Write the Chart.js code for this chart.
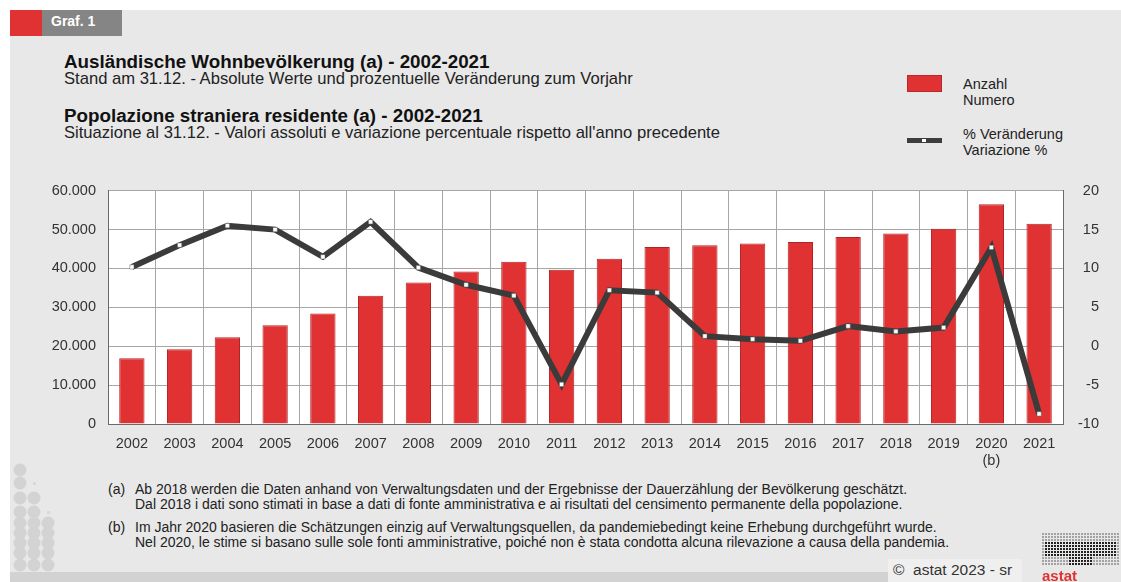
<!DOCTYPE html>
<html>
<head>
<meta charset="utf-8">
<script src="https://cdn.jsdelivr.net/npm/chart.js@4.4.0/dist/chart.umd.min.js"></script>
<style>
  body { margin: 0; background: #fff; font-family: 'Liberation Sans', Arial, sans-serif; color: #222; }
  #page { position: relative; width: 1121px; height: 582px; overflow: hidden; }
  #panel { position: absolute; left: 10px; top: 10px; width: 1111px; height: 572px; background: #e8e8e8; }
  .abs { position: absolute; white-space: nowrap; }
  .t1 { font-size: 18.8px; font-weight: bold; color: #111; }
  .t2 { font-size: 16.6px; color: #222; }
  .lg { font-size: 14.5px; color: #222; line-height: 16px; }
  .fn { font-size: 14px; color: #222; line-height: 15px; }
</style>
</head>
<body>
<div id="page">
  <div id="panel"></div>
  <div class="abs" style="left:10px;top:10px;width:32px;height:26px;background:#e03232"></div>
  <div class="abs" style="left:42px;top:10px;width:80px;height:26px;background:#858585"></div>
  <div class="abs" style="left:51px;top:13px;font-size:14px;font-weight:bold;color:#fff">Graf. 1</div>

  <div class="abs t1" style="left:64px;top:51px">Ausländische Wohnbevölkerung (a) - 2002-2021</div>
  <div class="abs t2" style="left:64px;top:69px">Stand am 31.12. - Absolute Werte und prozentuelle Veränderung zum Vorjahr</div>
  <div class="abs t1" style="left:64px;top:105px">Popolazione straniera residente (a) - 2002-2021</div>
  <div class="abs t2" style="left:64px;top:123px">Situazione al 31.12. - Valori assoluti e variazione percentuale rispetto all'anno precedente</div>

  <div class="abs" style="left:907px;top:75px;width:35px;height:17px;background:#e03232;border:1px solid #b82828;box-sizing:border-box"></div>
  <div class="abs lg" style="left:963px;top:76px">Anzahl<br>Numero</div>
  <div class="abs" style="left:907px;top:138px;width:35px;height:5px;background:#3d3d3d"></div>
  <div class="abs" style="left:922px;top:139px;width:4px;height:3px;background:#fff"></div>
  <div class="abs lg" style="left:963px;top:126px">% Veränderung<br>Variazione %</div>

  <div class="abs" style="left:0px;top:170px;width:1099px;height:310px">
    <canvas id="chartCanvas" width="1099" height="310"></canvas>
  </div>

  <div class="abs fn" style="left:108px;top:482px">(a)</div>
  <div class="abs fn" style="left:135px;top:482px">Ab 2018 werden die Daten anhand von Verwaltungsdaten und der Ergebnisse der Dauerzählung der Bevölkerung geschätzt.<br>Dal 2018 i dati sono stimati in base a dati di fonte amministrativa e ai risultati del censimento permanente della popolazione.</div>
  <div class="abs fn" style="left:108px;top:520px">(b)</div>
  <div class="abs fn" style="left:135px;top:520px">Im Jahr 2020 basieren die Schätzungen einzig auf Verwaltungsquellen, da pandemiebedingt keine Erhebung durchgeführt wurde.<br>Nel 2020, le stime si basano sulle sole fonti amministrative, poiché non è stata condotta alcuna rilevazione a causa della pandemia.</div>

  <div class="abs" style="left:10px;top:572px;width:880px;height:10px;background:#d2d2d2"></div>
  <div class="abs" style="left:888px;top:559px;width:134px;height:23px;background:#efefef"></div>
  <div class="abs" style="left:893px;top:561px;font-size:15.5px;color:#333">©&nbsp; astat 2023 - sr</div>

  <canvas id="deco" class="abs" style="left:10px;top:460px" width="60" height="115"></canvas>
  <canvas id="logo" class="abs" style="left:1030px;top:525px" width="91" height="57"></canvas>
</div>

<script>
  const years = ['2002','2003','2004','2005','2006','2007','2008','2009','2010','2011',
                 '2012','2013','2014','2015','2016','2017','2018','2019','2020','2021'];
  const yearLabels = years.map(y => y === '2020' ? ['2020', '(b)'] : y);
  const anzahl = [16900, 19200, 22300, 25400, 28400, 33000, 36400, 39200, 41700, 39700,
                  42500, 45500, 46000, 46400, 46800, 48100, 49000, 50200, 56500, 51500];
  const veraenderung = [10.2, 13.0, 15.5, 15.0, 11.5, 16.0, 10.1, 7.9, 6.5, -4.9,
                        7.2, 6.9, 1.3, 0.9, 0.7, 2.6, 1.9, 2.4, 12.7, -8.7];
  const leftTicks = [0, 10000, 20000, 30000, 40000, 50000, 60000];
  const rightTicks = [-10, -5, 0, 5, 10, 15, 20];

  function formatDots(v) {
    return String(v).replace(/\B(?=(\d{3})+(?!\d))/g, '.');
  }

  const gridColor = '#a6a6a6';
  const tickFont = { family: "'Liberation Sans', Arial, sans-serif", size: 14.5 };

  // white plot area behind the grid
  const plotBg = {
    id: 'plotBg',
    beforeDraw(c) {
      const a = c.chartArea;
      c.ctx.save();
      c.ctx.fillStyle = '#ffffff';
      c.ctx.fillRect(a.left, a.top, a.right - a.left, a.bottom - a.top);
      c.ctx.restore();
    }
  };

  const ctx = document.getElementById('chartCanvas').getContext('2d');
  const chart = new Chart(ctx, {
    data: {
      labels: yearLabels,
      datasets: [
        {
          type: 'line',
          label: '% Veränderung',
          data: veraenderung,
          yAxisID: 'y1',
          order: 0,
          borderColor: '#3b3b3b',
          borderWidth: 6,
          tension: 0,
          pointStyle: 'rect',
          pointRadius: 3,
          pointBackgroundColor: '#ffffff',
          pointBorderColor: '#666666',
          pointBorderWidth: 0.5
        },
        {
          type: 'bar',
          label: 'Anzahl',
          data: anzahl,
          yAxisID: 'y',
          order: 1,
          backgroundColor: '#e03232',
          borderColor: '#b02424',
          borderWidth: 1,
          barPercentage: 0.53,
          categoryPercentage: 1
        }
      ]
    },
    options: {
      responsive: false,
      animation: false,
      layout: { padding: { top: 15, left: 0, right: 0, bottom: 0 } },
      plugins: {
        legend: { display: false },
        tooltip: { enabled: false }
      },
      scales: {
        x: {
          grid: { color: gridColor, offset: true, drawTicks: false },
          border: { color: '#6a6a6a' },
          ticks: { font: tickFont, color: '#333', padding: 11, maxRotation: 0, autoSkip: false },
          afterFit: s => { s.height = 56; }
        },
        y: {
          position: 'left',
          min: leftTicks[0],
          max: leftTicks[leftTicks.length - 1],
          afterBuildTicks: s => { s.ticks = leftTicks.map(v => ({ value: v })); },
          grid: { color: gridColor, drawTicks: false },
          border: { color: '#6a6a6a' },
          ticks: { font: tickFont, color: '#333', padding: 12, callback: v => formatDots(v) },
          afterFit: s => { s.width = 108; }
        },
        y1: {
          position: 'right',
          min: rightTicks[0],
          max: rightTicks[rightTicks.length - 1],
          afterBuildTicks: s => { s.ticks = rightTicks.map(v => ({ value: v })); },
          grid: { drawOnChartArea: false, drawTicks: false },
          border: { color: '#6a6a6a' },
          ticks: { font: tickFont, color: '#333', crossAlign: 'far' },
          afterFit: s => { s.width = 36; }
        }
      }
    },
    plugins: [plotBg]
  });

  // decorative dots bottom-left
  const d = document.getElementById('deco').getContext('2d');
  d.fillStyle = '#d3d3d3';
  const rows = [[1,0,0],[1,0,0],[1,1,0],[1,1,0],[1,1,1],[1,1,1],[1,1,1],[1,1,1],[1,1,1]];
  const ys = [10, 23, 38, 52, 63, 73, 83, 93, 105];
  rows.forEach((r, i) => {
    r.forEach((on, j) => {
      if (on) { d.beginPath(); d.arc(10 + j * 14, ys[i], 6.5, 0, Math.PI * 2); d.fill(); }
    });
  });
  d.fillStyle = '#d8d8d8';
  [[23, 23], [37, 52]].forEach(p => d.fillRect(p[0], p[1] - 1, 3, 3));

  // astat logo (simplified)
  const l = document.getElementById('logo').getContext('2d');
  l.fillStyle = '#222';
  for (let yy = 8; yy < 40; yy += 3) {
    for (let xx = 12; xx < 88; xx += 3) {
      const inside = (yy > 14 && yy < 32 && xx > 14 && xx < 86) || (yy >= 32 && xx > 38 && xx < 62);
      l.globalAlpha = inside ? 1 : 0.35;
      l.fillRect(xx, yy, 2, 2);
    }
  }
  l.globalAlpha = 1;
  l.fillStyle = '#e03232';
  l.font = "bold 15px 'Liberation Sans', Arial, sans-serif";
  l.fillText('astat', 12, 56);
</script>
</body>
</html>
